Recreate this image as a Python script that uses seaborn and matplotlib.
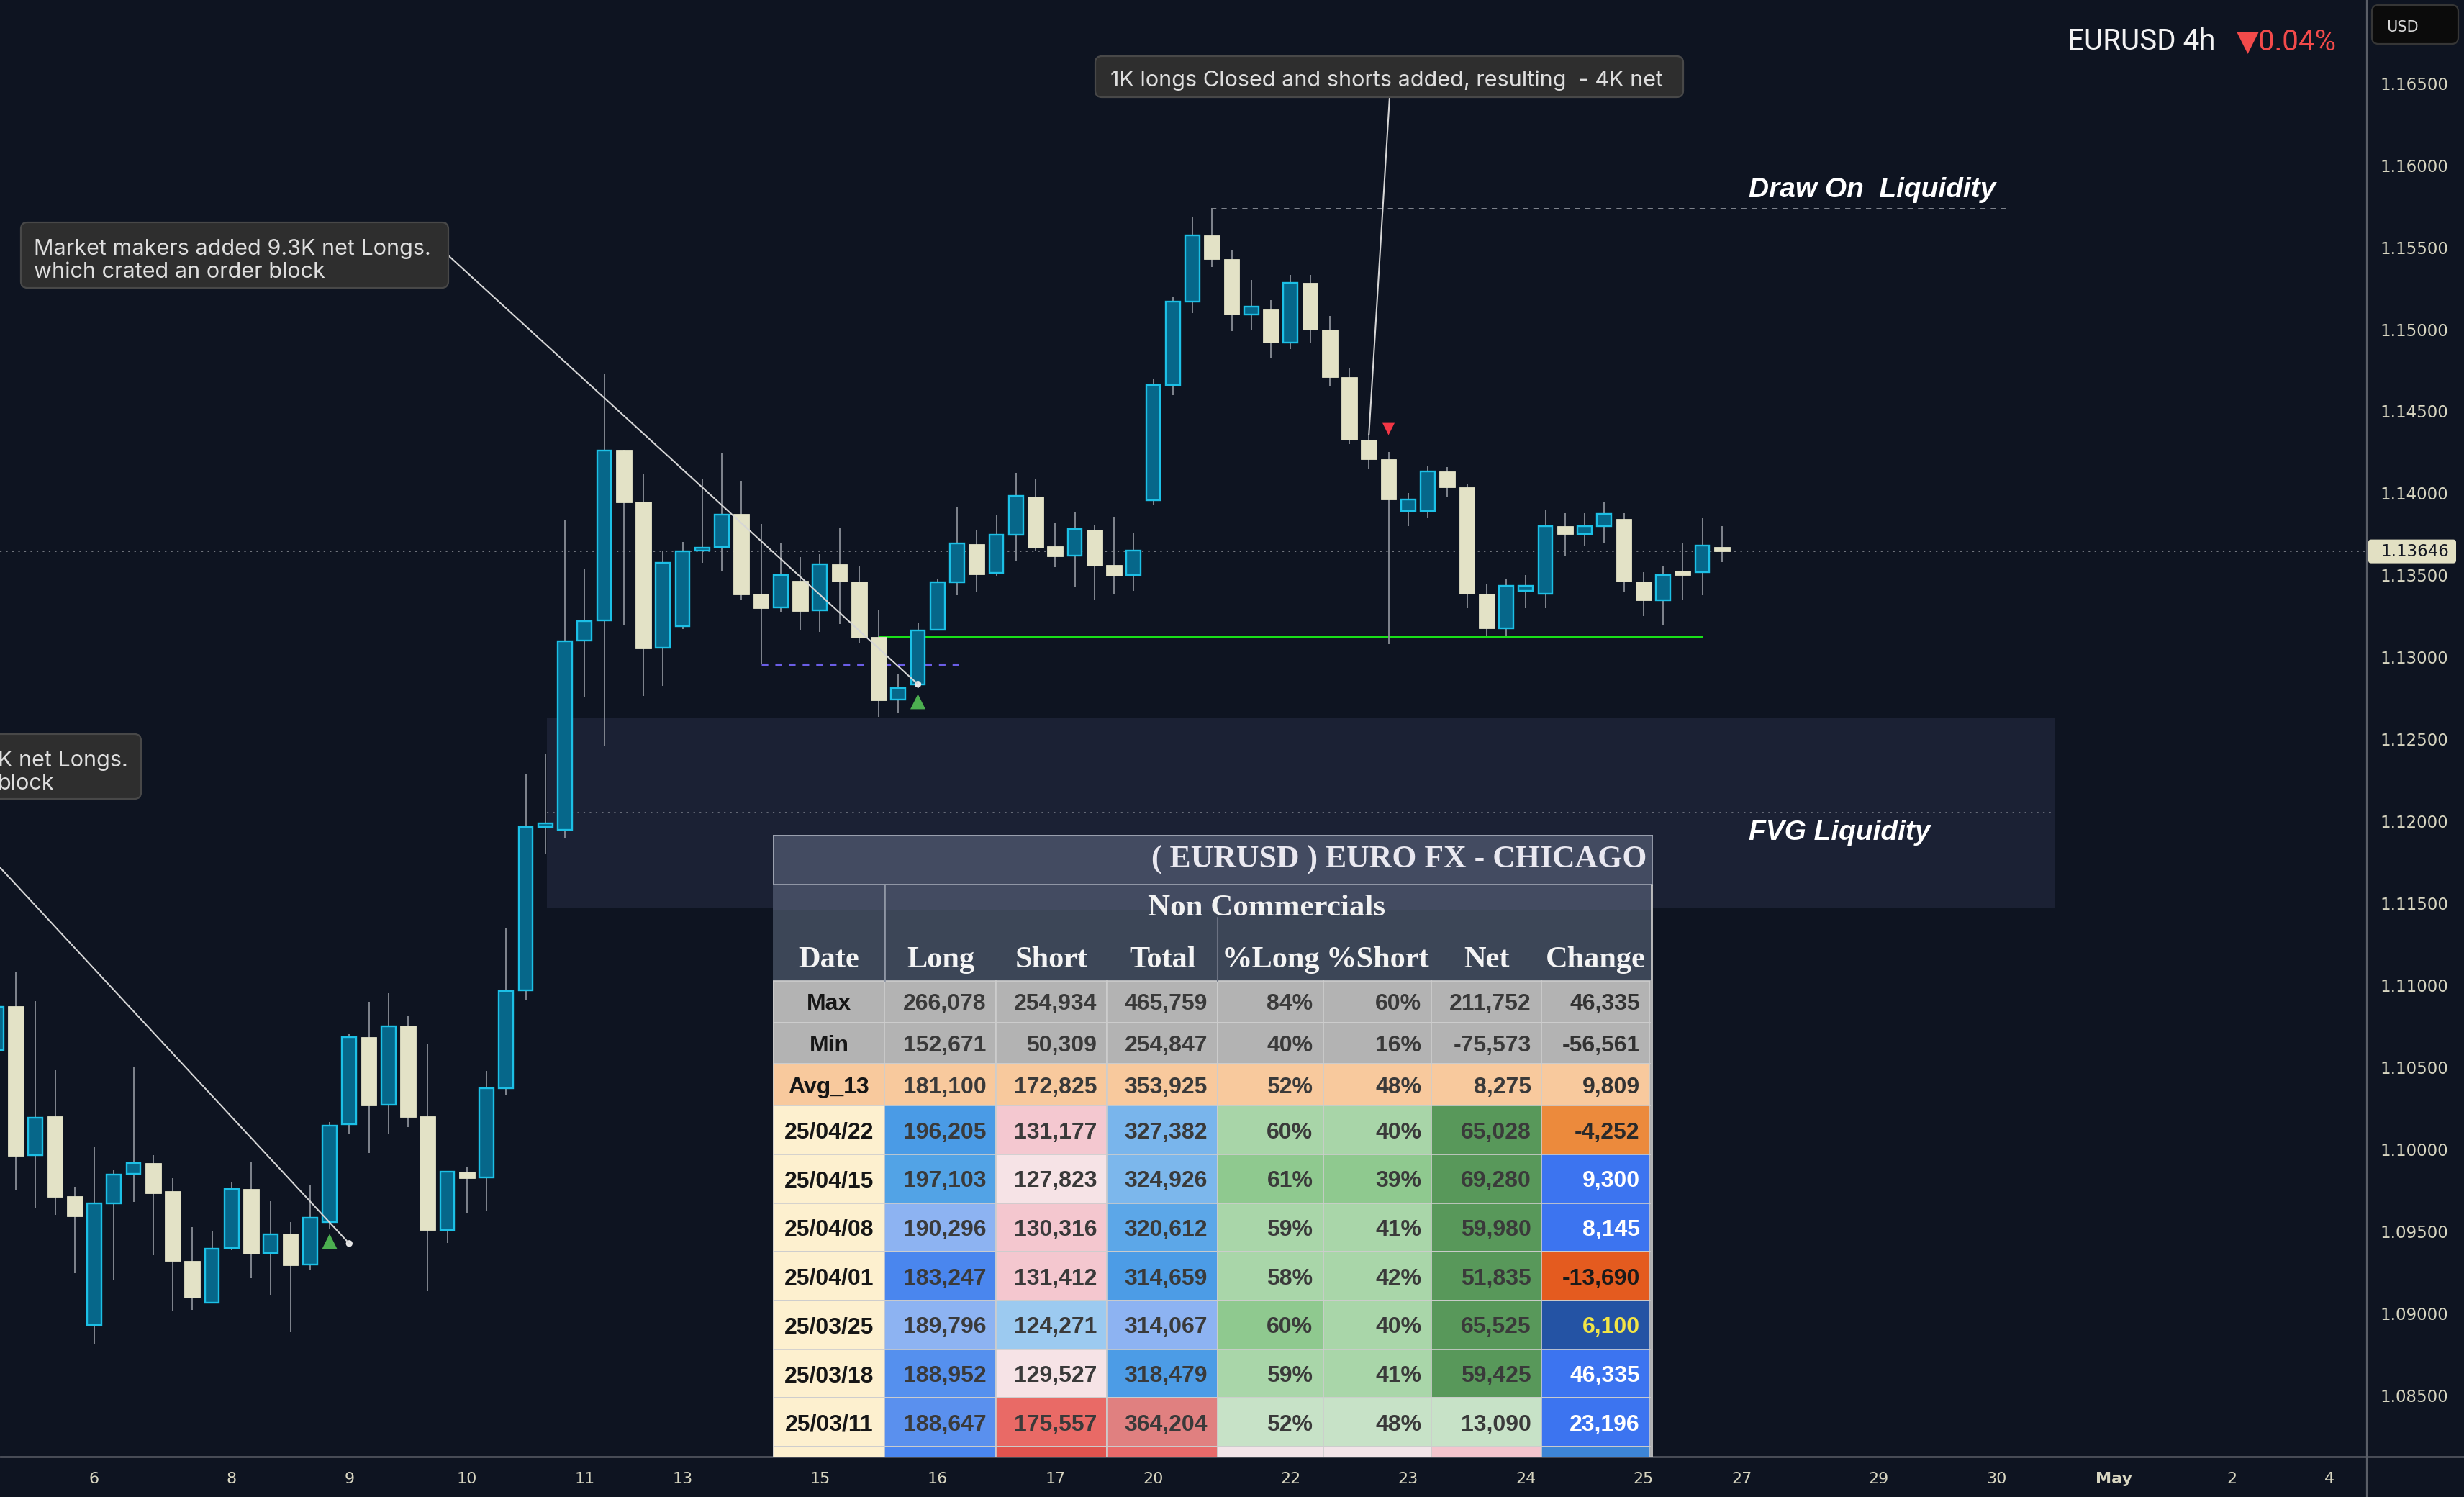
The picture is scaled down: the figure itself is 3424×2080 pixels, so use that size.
import numpy as np
import pandas as pd
import matplotlib
matplotlib.use('Agg')
import matplotlib.pyplot as plt
import seaborn as sns
from matplotlib.patches import Rectangle, FancyBboxPatch
from matplotlib.lines import Line2D
from matplotlib.transforms import IdentityTransform
from matplotlib import font_manager as fm

# ---------------- candle data (EURUSD 4h) ----------------
bar_k = list(range(-1, 88))
opens = [1.10606, 1.10873, 1.09963, 1.10201, 1.09714, 1.08929, 1.09669, 1.09849, 1.09916, 1.09745,
         1.09321, 1.09066, 1.09397, 1.09758, 1.09367, 1.09486, 1.09296, 1.09557, 1.10153, 1.10685,
         1.10272, 1.10754, 1.10201, 1.09510, 1.09864, 1.09827, 1.10373, 1.10972, 1.11964, 1.11947,
         1.13102, 1.13225, 1.14264, 1.13948, 1.13058, 1.13188, 1.13650, 1.13672, 1.13874, 1.13388,
         1.13303, 1.13467, 1.13285, 1.13568, 1.13462, 1.13124, 1.12741, 1.12833, 1.13167, 1.13456,
         1.13690, 1.13514, 1.13746, 1.13980, 1.13677, 1.13619, 1.13778, 1.13563, 1.13500, 1.13958,
         1.14660, 1.15168, 1.15571, 1.15427, 1.15092, 1.15120, 1.14919, 1.15283, 1.14996, 1.14708,
         1.14325, 1.14210, 1.13894, 1.13894, 1.14134, 1.14038, 1.13386, 1.13175, 1.13405, 1.13386,
         1.13798, 1.13750, 1.13798, 1.13846, 1.13463, 1.13348, 1.13530, 1.13520, 1.13674]
highs = [1.10900, 1.11080, 1.10903, 1.10482, 1.09772, 1.10013, 1.09876, 1.10500, 1.09965, 1.09824,
         1.09526, 1.09505, 1.09803, 1.09921, 1.09684, 1.09557, 1.09780, 1.10166, 1.10700, 1.10900,
         1.10952, 1.10816, 1.10645, 1.09867, 1.09894, 1.10478, 1.11350, 1.12286, 1.12413, 1.13839,
         1.13541, 1.14730, 1.14264, 1.14115, 1.13650, 1.13702, 1.14085, 1.14242, 1.14071, 1.13813,
         1.13695, 1.13611, 1.13629, 1.13787, 1.13559, 1.13291, 1.12896, 1.13212, 1.13475, 1.13919,
         1.13774, 1.13866, 1.14125, 1.14090, 1.13818, 1.13884, 1.13805, 1.13853, 1.13761, 1.14700,
         1.15200, 1.15686, 1.15734, 1.15480, 1.15300, 1.15180, 1.15331, 1.15331, 1.15080, 1.14760,
         1.14360, 1.14250, 1.14000, 1.14170, 1.14160, 1.14060, 1.13450, 1.13480, 1.13500, 1.13900,
         1.13880, 1.13880, 1.13950, 1.13880, 1.13520, 1.13560, 1.13700, 1.13850, 1.13800]
lows = [1.10550, 1.09755, 1.09644, 1.09602, 1.09246, 1.08816, 1.09204, 1.09681, 1.09355, 1.09016,
        1.09023, 1.09066, 1.09384, 1.09216, 1.09115, 1.08887, 1.09264, 1.09516, 1.10097, 1.09980,
        1.10094, 1.10138, 1.09137, 1.09431, 1.09615, 1.09629, 1.10334, 1.10908, 1.11800, 1.11899,
        1.12755, 1.12463, 1.13199, 1.12765, 1.12824, 1.13173, 1.13577, 1.13529, 1.13346, 1.12956,
        1.13278, 1.13168, 1.13157, 1.13205, 1.13086, 1.12639, 1.12661, 1.12813, 1.13167, 1.13380,
        1.13402, 1.13494, 1.13591, 1.13648, 1.13551, 1.13433, 1.13350, 1.13385, 1.13407, 1.13930,
        1.14600, 1.15100, 1.15380, 1.14990, 1.15000, 1.14823, 1.14880, 1.14920, 1.14650, 1.14300,
        1.14150, 1.13080, 1.13800, 1.13850, 1.13980, 1.13300, 1.13130, 1.13130, 1.13300, 1.13300,
        1.13620, 1.13680, 1.13700, 1.13400, 1.13250, 1.13200, 1.13350, 1.13380, 1.13580]
closes = [1.10870, 1.09960, 1.10193, 1.09711, 1.09592, 1.09669, 1.09847, 1.09918, 1.09733, 1.09321,
          1.09097, 1.09395, 1.09757, 1.09365, 1.09484, 1.09295, 1.09583, 1.10146, 1.10685, 1.10269,
          1.10751, 1.10198, 1.09510, 1.09862, 1.09825, 1.10374, 1.10965, 1.11964, 1.11990, 1.13096,
          1.13219, 1.14262, 1.13946, 1.13052, 1.13577, 1.13648, 1.13670, 1.13871, 1.13384, 1.13301,
          1.13500, 1.13284, 1.13566, 1.13464, 1.13121, 1.12740, 1.12811, 1.13165, 1.13456, 1.13693,
          1.13508, 1.13746, 1.13983, 1.13670, 1.13617, 1.13781, 1.13560, 1.13499, 1.13650, 1.14660,
          1.15168, 1.15571, 1.15427, 1.15092, 1.15140, 1.14919, 1.15283, 1.14996, 1.14708, 1.14325,
          1.14210, 1.13961, 1.13961, 1.14134, 1.14038, 1.13386, 1.13175, 1.13434, 1.13434, 1.13798,
          1.13750, 1.13798, 1.13875, 1.13463, 1.13348, 1.13501, 1.13501, 1.13683, 1.13646]

price_ticks = [1.085, 1.090, 1.095, 1.100, 1.105, 1.110, 1.115, 1.120, 1.125,
               1.130, 1.135, 1.140, 1.145, 1.150, 1.155, 1.160, 1.165]
day_ticks_k = [4, 11, 17, 23, 29, 34, 41, 47, 53, 58, 65, 71, 77, 83, 88, 95, 101, 107, 113, 118]
day_labels = ['6', '8', '9', '10', '11', '13', '15', '16', '17', '20', '22', '23', '24', '25',
              '27', '29', '30', 'May', '2', '4']

last_price = 1.13646
title_text = 'EURUSD 4h'
change_text = '▼0.04%'

fvg_k = [27.08, 104.0]
fvg_prices = [1.1147, 1.1263]
fvg_mid = 1.12055
dol_k = [60.97, 101.75]
dol_price = 1.15734
sweep_k = [38, 48.1]
sweep_price = 1.12956
support_k = [44, 86]
support_price = 1.13124
buy_k = [16, 46]
buy_price = [1.09439, 1.12730]
sell_k = [70]
sell_price = [1.14392]
dot_k = [17, 46]
dot_price = [1.09426, 1.12836]
note_texts = ['Market makers added 9.3K net Longs.\nwhich crated an order block',
              'K net Longs.\nblock',
              '1K longs Closed and shorts added, resulting  - 4K net']
note_anchor_k = [46, 17, 69]
note_anchor_price = [1.12836, 1.09426, 1.14360]
note2_start_price = 1.11719

# ---------------- COT table data ----------------
tbl_header = ['Date', 'Long', 'Short', 'Total', '%Long', '%Short', 'Net', 'Change']
row_labels = ['Max', 'Min', 'Avg_13', '25/04/22', '25/04/15', '25/04/08', '25/04/01',
              '25/03/25', '25/03/18', '25/03/11', '']
long_vals = ['266,078', '152,671', '181,100', '196,205', '197,103', '190,296', '183,247',
             '189,796', '188,952', '188,647', '']
short_vals = ['254,934', '50,309', '172,825', '131,177', '127,823', '130,316', '131,412',
              '124,271', '129,527', '175,557', '']
total_vals = ['465,759', '254,847', '353,925', '327,382', '324,926', '320,612', '314,659',
              '314,067', '318,479', '364,204', '']
pct_long = ['84%', '40%', '52%', '60%', '61%', '59%', '58%', '60%', '59%', '52%', '']
pct_short = ['60%', '16%', '48%', '40%', '39%', '41%', '42%', '40%', '41%', '48%', '']
net_vals = ['211,752', '-75,573', '8,275', '65,028', '69,280', '59,980', '51,835',
            '65,525', '59,425', '13,090', '']
change_vals = ['46,335', '-56,561', '9,809', '-4,252', '9,300', '8,145', '-13,690',
               '6,100', '46,335', '23,196', '']
GR, PE, CR = '#b3b3b3', '#f8c99d', '#fdf0cf'
cell_colors = [
    [GR] * 8,
    [GR] * 8,
    [PE] * 8,
    [CR, '#4a9be6', '#f4c8d0', '#79b5ec', '#a8d5a8', '#a8d5a8', '#58985a', '#ec8a3c'],
    [CR, '#52a3e6', '#f6e3e6', '#7cb7ec', '#8fc98f', '#8fc98f', '#58985a', '#3c74f0'],
    [CR, '#8db3f2', '#f4c7cf', '#5ca7e8', '#a9d6a9', '#a9d6a9', '#58985a', '#3c74f0'],
    [CR, '#4a86ee', '#f4c7cf', '#4c9ce6', '#a9d6a9', '#a9d6a9', '#58985a', '#e45b1f'],
    [CR, '#8db3f2', '#9ccaf0', '#8db3f2', '#8fc98f', '#a9d6a9', '#58985a', '#2453a4'],
    [CR, '#5590ee', '#f6e3e6', '#4c9ce6', '#a9d6a9', '#a9d6a9', '#58985a', '#3c74f0'],
    [CR, '#5a90ee', '#e96a66', '#e08080', '#c7e2c7', '#c7e2c7', '#c7e2c7', '#3c74f0'],
    [CR, '#4a86f0', '#e0534e', '#e86a6a', '#f2e4e8', '#f2e4e8', '#f3c5cd', '#3d85d6'],
]
change_text_colors = ['#333333', '#333333', '#333333', '#2a2a2a', '#ffffff', '#ffffff',
                      '#1a1a1a', '#f3e545', '#ffffff', '#ffffff', '#ffffff']

# ---------------- style ----------------
W, H, DPI = 3424, 2080, 100
BG = '#0e1421'
TEAL, CYAN, CREAM, WICK = '#06678a', '#1cc0e6', '#e3e2c6', '#8a8e97'
TICKC = '#d8d6c1'
sns.set_theme(style='dark', rc={'axes.facecolor': BG, 'figure.facecolor': BG,
                                'axes.grid': False})
plt.rcParams['font.family'] = ['DejaVu Sans']
avail = {f.name for f in fm.fontManager.ttflist}
NARROW = 'Liberation Sans Narrow' in avail
DATA_FONT = 'Liberation Sans Narrow' if NARROW else 'Liberation Sans'
DATA_SIZE = 28 if NARROW else 23
UI_FONT = ['Inter', 'Roboto', 'DejaVu Sans']

fig = plt.figure(figsize=(W / DPI, H / DPI), dpi=DPI)
fig.patch.set_facecolor(BG)
AX_R, AX_B = 3289, 2024
ax = fig.add_axes([0, 1 - AX_B / H, AX_R / W, AX_B / H])
ax.set_facecolor(BG)
X0, X1 = -0.8095, 119.89
Y0, Y1 = 1.081264, 1.170077
ax.set_xlim(X0, X1)
ax.set_ylim(Y0, Y1)
for s in ax.spines.values():
    s.set_visible(False)
ax.grid(False)

# axes ticks
ax.yaxis.tick_right()
ax.set_yticks(price_ticks)
ax.set_yticklabels([f'{v:.5f}' for v in price_ticks])
ax.tick_params(axis='y', length=0, pad=13.5, labelsize=16.5, labelcolor=TICKC)
ax.set_xticks(day_ticks_k)
ax.set_xticklabels(day_labels)
ax.tick_params(axis='x', length=0, pad=15, labelsize=16, labelcolor=TICKC)
for t in ax.get_xticklabels():
    if t.get_text() == 'May':
        t.set_fontweight('bold')

# FVG zone
ax.add_patch(Rectangle((fvg_k[0], fvg_prices[0]), fvg_k[1] - fvg_k[0],
                       fvg_prices[1] - fvg_prices[0], fc='#1b2134', ec='none', zorder=0.5))
ax.hlines(fvg_mid, fvg_k[0], fvg_k[1], colors='#6f7480', linestyles=(0, (1.2, 3.5)), lw=1.3, zorder=1)
# current price line
ax.axhline(last_price, color='#7c8088', lw=1.3, ls=(0, (1.2, 3.5)), zorder=1)
# draw on liquidity line
ax.hlines(dol_price, dol_k[0], dol_k[1], colors='#8a8e97', linestyles=(0, (4, 4)), lw=1.3, zorder=1)
# sweep level (purple dashed)
ax.hlines(sweep_price, sweep_k[0], sweep_k[1], colors='#6b5ee6', linestyles=(0, (3, 3.2)), lw=2.2, zorder=1.5)
# support line (green)
ax.hlines(support_price, support_k[0], support_k[1], colors='#19e019', lw=1.6, zorder=1.5)

# candles
df = pd.DataFrame(dict(k=bar_k, o=opens, h=highs, l=lows, c=closes))
df['up'] = df.c >= df.o
df['bot'] = df[['o', 'c']].min(axis=1)
df['ht'] = (df.c - df.o).abs().clip(lower=0.00004)
ax.vlines(df.k, df.l, df.h, colors=WICK, lw=1.3, zorder=2)
u = df[df.up]
d = df[~df.up]
ax.bar(u.k, u.ht, bottom=u.bot, width=0.72, color=TEAL, edgecolor=CYAN, linewidth=1.7, zorder=3)
ax.bar(d.k, d.ht, bottom=d.bot, width=0.80, color=CREAM, edgecolor=CREAM, linewidth=0.6, zorder=3)

# signal markers
sns.scatterplot(x=buy_k, y=buy_price, marker='^', s=230, color='#4caf50', edgecolor='none',
                ax=ax, zorder=5, legend=False)
sns.scatterplot(x=sell_k, y=sell_price, marker='v', s=150, color='#f23645', edgecolor='none',
                ax=ax, zorder=5, legend=False)

# ---------------- annotations ----------------
ID = IdentityTransform()


def px(x, y):
    return x, H - y


def to_disp(k, p):
    return ax.transData.transform((k, p))


def fig_line(p0, p1, color='#d6d6d6', lw=1.5, z=4):
    fig.add_artist(Line2D([p0[0], p1[0]], [p0[1], p1[1]], transform=ID, color=color, lw=lw, zorder=z))


def note_box(x0, y0, x1, y1):
    fig.add_artist(FancyBboxPatch(px(x0, y1), x1 - x0, y1 - y0,
                                  boxstyle='round,pad=0,rounding_size=9', transform=ID,
                                  fc='#2e2e2e', ec='#484848', lw=1.6, zorder=6))


NOTE_SIZE = 22
# connectors
fig_line(px(623, 355), to_disp(note_anchor_k[0], note_anchor_price[0]))
fig_line(to_disp(X0, note2_start_price), to_disp(note_anchor_k[1], note_anchor_price[1]))
fig_line(px(1931, 135), to_disp(note_anchor_k[2], note_anchor_price[2]))
sns.scatterplot(x=dot_k, y=dot_price, s=45, color='#e6e6e6', edgecolor='none', ax=ax, zorder=6, legend=False)

# boxes + text
note_box(29, 309, 623, 400)
l1, l2 = note_texts[0].split('\n')
fig.text(47 / W, 1 - 354 / H, l1, color='#dedede', fontsize=NOTE_SIZE, family=UI_FONT, va='baseline', zorder=7)
fig.text(47 / W, 1 - 386 / H, l2, color='#dedede', fontsize=NOTE_SIZE, family=UI_FONT, va='baseline', zorder=7)
note_box(-30, 1020, 196, 1110)
l1, l2 = note_texts[1].split('\n')
fig.text(-3 / W, 1 - 1065 / H, l1, color='#dedede', fontsize=NOTE_SIZE, family=UI_FONT, va='baseline', zorder=7)
fig.text(-3 / W, 1 - 1097 / H, l2, color='#dedede', fontsize=NOTE_SIZE, family=UI_FONT, va='baseline', zorder=7)
note_box(1522, 78, 2339, 135)
fig.text(1543 / W, 1 - 120 / H, note_texts[2], color='#dedede', fontsize=NOTE_SIZE, family=UI_FONT,
         va='baseline', zorder=7)

fig.text(2430 / W, 1 - 264 / H, 'Draw On  Liquidity', color='white', fontsize=28, weight='bold',
         style='italic', family=['Liberation Sans', 'DejaVu Sans'], va='center')
fig.text(2430 / W, 1 - 1157 / H, 'FVG Liquidity', color='white', fontsize=28, weight='bold',
         style='italic', family=['Liberation Sans', 'DejaVu Sans'], va='center')

# header texts
fig.text(2873 / W, 1 - 69 / H, title_text, color='#f2f2f2', fontsize=29,
         family=['Roboto', 'DejaVu Sans'], va='baseline')
fig.text(3108 / W, 1 - 69 / H, change_text, color='#f24a4a', fontsize=29,
         family=['Roboto', 'DejaVu Sans'], va='baseline')

# USD box
fig.add_artist(FancyBboxPatch(px(3296, 61), 120, 54, boxstyle='round,pad=0,rounding_size=9',
                              transform=ID, fc='#0b0b0b', ec='#363636', lw=1.6, zorder=6))
fig.text(3316 / W, 1 - 44 / H, 'USD', color='#d8d8d8', fontsize=15, va='baseline', zorder=7)

# axis lines
fig_line(px(AX_R, 0), px(AX_R, H), color='#5a5e67', lw=1.6, z=3)
fig_line(px(0, AX_B), px(W, AX_B), color='#5a5e67', lw=1.8, z=3)

# last price tag
yd = to_disp(0, last_price)[1]
fig.add_artist(FancyBboxPatch((3291, yd - 16.5), 122, 33, boxstyle='round,pad=0,rounding_size=4',
                              transform=ID, fc='#e2e0c3', ec='none', zorder=6))
fig.text(3308 / W, yd / H, f'{last_price:.5f}', color='#131722', fontsize=16.5,
         va='center', zorder=7)

# ---------------- COT table ----------------
tax = fig.add_axes([492 / 1568, 1 - 927 / 952.5, (1052 - 492) / 1568, (927 - 531) / 952.5])
tax.set_xlim(492, 1052)
tax.set_ylim(927, 531)
tax.axis('off')
tax.set_zorder(8)

col_edges = [492, 563, 634, 704.5, 775, 842, 911, 981, 1050]
row_edges = [624, 650.5, 677, 703.5, 734.5, 765.5, 796.5, 827.5, 858.5, 889.5, 920.5, 951.5]


def R(x0, y0, x1, y1, fc, ec='none', lw=0, z=1):
    tax.add_patch(Rectangle((x0, y0), x1 - x0, y1 - y0, fc=fc, ec=ec, lw=lw, zorder=z))


R(492, 531, 1052, 563, '#434b61', ec='#9aa0ae', lw=2)
R(492, 563, 1051, 624, '#3c4657')
R(492, 563, 1051, 579, '#434b61')
tax.plot([563, 563], [563, 624], color='#8f96a4', lw=2, zorder=2)
tax.plot([775, 775], [584, 624], color='#6b7282', lw=1.5, zorder=2)
tax.plot([1051, 1051], [563, 927], color='#c8c8c8', lw=2, zorder=4)

SERIF = ['Liberation Serif', 'DejaVu Serif']
tax.text(1048, 547, '( EURUSD ) EURO FX - CHICAGO', ha='right', va='center', fontsize=31.5,
         weight='bold', family=SERIF, color='#e9e8f0')
tax.text(806, 578, 'Non Commercials', ha='center', va='center', fontsize=31, weight='bold',
         family=SERIF, color='#f2f2f2')
for j, hname in enumerate(tbl_header):
    cx = (col_edges[j] + col_edges[j + 1]) / 2
    tax.text(cx, 609, hname, ha='center', va='center_baseline', fontsize=30.5, weight='bold',
             family=SERIF, color='#f4f4f4')

columns = [long_vals, short_vals, total_vals, pct_long, pct_short, net_vals, change_vals]
for i in range(len(row_labels)):
    y0, y1 = row_edges[i], row_edges[i + 1]
    yc = (y0 + y1) / 2
    for j in range(8):
        R(col_edges[j], y0, col_edges[j + 1], y1, cell_colors[i][j], ec='#cdcdcd', lw=1.2)
    tax.text((col_edges[0] + col_edges[1]) / 2, yc, row_labels[i], ha='center', va='center_baseline',
             fontsize=DATA_SIZE, weight='bold', family=[DATA_FONT, 'DejaVu Sans'], color='#161616', zorder=3)
    for j, col in enumerate(columns):
        tc = change_text_colors[i] if j == 6 else '#3a3a3a'
        tax.text(col_edges[j + 2] - 6.5, yc, col[i], ha='right', va='center_baseline',
                 fontsize=DATA_SIZE, weight='bold', family=[DATA_FONT, 'DejaVu Sans'], color=tc, zorder=3)

fig.savefig('out.png', dpi=DPI, facecolor=BG)
